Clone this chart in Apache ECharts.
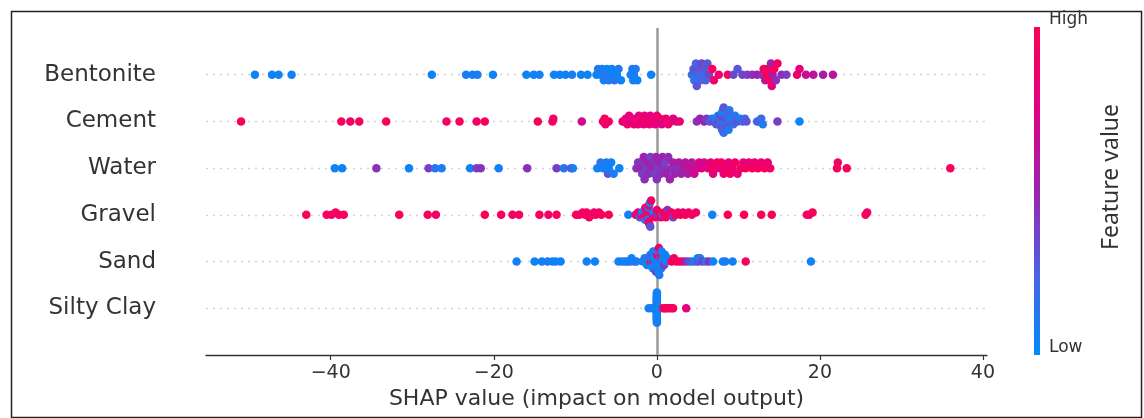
<!DOCTYPE html>
<html>
<head>
<meta charset="utf-8">
<title>SHAP summary</title>
<script src="https://cdn.jsdelivr.net/npm/echarts@6/dist/echarts.min.js"></script>
<style>
  html, body { margin: 0; padding: 0; background: #fff; }
  #chart { width: 1144px; height: 418px; }
</style>
</head>
<body>
<div id="chart"></div>
<script>
// Features, listed top to bottom
const features = ['Bentonite', 'Cement', 'Water', 'Gravel', 'Sand', 'Silty Clay'];

// x-axis tick values
const xTicks = [-40, -20, 0, 20, 40];

// Each point: [SHAP value, normalised feature value (0 = low, 1 = high)]
const bentonite = [
  [-49.3,0.05],[-47.2,0.05],[-46.4,0.05],[-44.8,0.05],[-27.6,0.05],
  [-23.4,0.08],[-22.6,0.08],[-22.0,0.1],[-20.1,0.05],
  [-16.0,0.05],[-15.1,0.05],[-14.4,0.08],
  [-12.6,0.05],[-11.9,0.05],[-11.2,0.05],[-10.4,0.1],[-9.3,0.05],[-8.5,0.05],
  [-7.4,0.05],[-7.2,0.1],[-6.9,0.05],[-6.7,0.1],[-6.5,0.05],[-6.4,0.15],[-6.1,0.05],
  [-5.9,0.1],[-5.6,0.05],[-5.5,0.05],[-5.2,0.15],[-4.9,0.05],[-4.7,0.1],[-4.4,0.05],
  [-3.2,0.05],[-3.0,0.1],[-2.9,0.05],[-2.8,0.05],[-2.6,0.1],[-2.4,0.05],
  [-0.7,0.05],
  [4.3,0.2],[4.5,0.3],[4.6,0.15],[4.8,0.25],[4.9,0.3],[5.1,0.2],[5.2,0.3],[5.4,0.25],
  [5.5,0.35],[5.7,0.2],[5.8,0.3],[6.0,0.25],[6.2,0.3],[6.4,0.35],
  [6.8,0.95],[7.0,0.9],[7.6,0.85],[8.7,0.95],
  [9.4,0.35],[9.9,0.3],[10.5,0.35],[11.1,0.4],[11.7,0.45],[12.3,0.5],
  [12.9,0.45],[13.1,0.95],[13.3,0.55],[13.5,1.0],[13.6,0.9],[13.8,0.95],[14.0,0.5],
  [14.1,0.85],[14.2,0.6],[14.4,0.95],[14.6,0.45],[14.8,0.9],
  [15.3,0.45],[15.9,0.4],
  [17.2,0.9],[17.5,0.8],[18.3,0.65],[19.2,0.6],[20.4,0.55],[21.6,0.6]
];

const cement = [
  [-51.0,0.95],[-38.7,0.95],[-37.6,0.9],[-36.5,0.95],[-33.2,0.95],
  [-25.8,0.9],[-24.2,0.95],[-22.1,0.9],[-21.1,0.95],
  [-14.6,0.95],[-12.8,0.95],[-12.7,0.9],[-9.2,0.7],
  [-6.6,0.95],[-6.4,0.95],[-6.3,0.9],[-5.9,0.9],
  [-4.2,0.8],[-4.0,0.85],[-3.8,0.8],[-3.6,0.9],[-3.4,0.8],[-3.3,0.75],[-3.0,0.85],
  [-2.8,0.8],[-2.7,0.9],[-2.5,0.8],[-2.3,0.85],[-2.2,0.75],[-2.0,0.8],[-1.8,0.9],
  [-1.6,0.8],[-1.5,0.85],[-1.3,0.95],[-1.1,0.8],[-0.9,0.85],[-0.8,0.75],[-0.6,0.8],
  [-0.4,0.9],[-0.2,0.8],[0.0,0.85],[0.2,0.8],[0.4,0.9],[0.6,0.75],[0.9,0.8],
  [1.1,0.85],[1.4,0.8],[1.7,0.9],[2.0,0.75],[2.4,0.8],[2.8,0.85],
  [4.9,0.45],[5.3,0.5],[5.8,0.5],[6.1,0.4],
  [6.5,0.3],[6.8,0.15],[7.0,0.35],[7.2,0.1],[7.3,0.3],[7.5,0.05],[7.6,0.4],[7.7,0.2],
  [7.8,0.15],[7.8,0.35],[7.9,0.3],[8.0,0.1],[8.0,0.25],[8.1,0.1],[8.2,0.2],[8.2,0.3],
  [8.3,0.05],[8.4,0.35],[8.5,0.2],[8.6,0.1],[8.6,0.3],[8.7,0.25],[8.8,0.1],[8.9,0.15],
  [9.1,0.3],[9.2,0.1],[9.4,0.2],[9.6,0.15],[9.9,0.3],[10.2,0.1],[10.5,0.25],
  [10.8,0.2],[11.0,0.3],
  [12.3,0.15],[12.5,0.3],[12.8,0.2],[13.0,0.1],
  [14.8,0.4],[17.5,0.05]
];

const water = [
  [-39.5,0.05],[-38.6,0.05],[-34.4,0.45],[-30.4,0.05],[-28.0,0.4],[-27.2,0.15],
  [-26.4,0.1],[-22.9,0.05],[-22.1,0.4],[-21.6,0.45],[-19.4,0.05],[-15.9,0.45],
  [-12.3,0.4],[-11.4,0.15],[-10.5,0.35],[-10.3,0.1],
  [-7.3,0.05],[-6.9,0.15],[-6.6,0.05],[-6.2,0.1],[-6.0,0.3],[-5.9,0.05],[-5.6,0.05],
  [-5.3,0.1],[-4.6,0.05],
  [-2.5,0.45],[-2.3,0.4],[-2.1,0.5],[-2.0,0.45],[-1.8,0.4],[-1.6,0.5],[-1.5,0.45],
  [-1.3,0.4],[-1.1,0.5],[-1.0,0.45],[-0.8,0.4],[-0.6,0.5],[-0.5,0.45],[-0.3,0.4],
  [-0.1,0.5],[0.0,0.45],[0.2,0.4],[0.4,0.5],[0.5,0.45],[0.7,0.5],[0.9,0.45],
  [1.0,0.4],[1.2,0.5],[1.4,0.45],[1.6,0.5],[1.8,0.45],[2.0,0.55],[2.2,0.5],
  [2.5,0.45],[2.7,0.55],[3.0,0.5],[3.2,0.55],[3.5,0.6],[3.8,0.55],[4.0,0.65],
  [4.3,0.6],[4.6,0.7],[4.9,0.65],[5.2,0.7],[5.5,0.75],[5.8,0.7],
  [6.3,0.8],[6.6,0.85],[6.9,0.8],[7.1,0.9],[7.4,0.85],[7.7,0.8],[7.9,0.95],
  [8.2,0.85],[8.5,0.9],[8.8,0.8],[9.0,0.95],[9.3,0.85],[9.6,0.9],[9.9,0.8],
  [10.3,0.95],[10.6,0.85],[10.9,0.9],[11.3,0.8],[11.7,0.95],[12.0,0.85],
  [12.4,0.9],[12.8,0.85],[13.2,0.95],[13.6,0.85],[13.9,0.9],
  [22.1,0.95],[22.2,0.9],[23.3,0.95],[36.0,0.95]
];

const gravel = [
  [-43.0,0.95],[-40.5,0.95],[-39.9,0.9],[-39.4,0.95],[-39.0,0.9],[-38.4,0.95],
  [-31.6,0.95],[-28.1,0.95],[-27.1,0.9],[-21.1,0.95],[-19.1,0.95],[-17.7,0.9],
  [-16.9,0.95],[-14.4,0.95],[-13.3,0.9],[-12.3,0.95],
  [-9.9,0.95],[-9.5,0.9],[-9.1,0.95],[-8.8,0.85],[-8.6,0.95],[-8.3,0.9],[-8.0,0.95],
  [-7.7,0.85],[-7.5,0.95],[-7.1,0.9],[-6.8,0.95],
  [-5.9,0.95],[-3.5,0.05],
  [-2.6,0.9],[-2.3,0.85],[-2.1,0.3],[-1.9,0.95],[-1.8,0.05],[-1.6,0.9],[-1.5,0.2],
  [-1.45,0.1],[-1.4,0.95],[-1.35,0.9],[-1.3,0.4],[-1.25,0.95],[-1.2,0.9],[-1.1,0.05],
  [-1.05,0.3],[-1.0,0.85],[-0.95,0.9],[-0.9,0.95],[-0.85,0.05],[-0.8,0.3],[-0.7,0.9],
  [-0.5,0.95],[-0.4,0.1],[-0.2,0.9],[0.0,0.85],[0.1,0.4],[0.3,0.95],[0.5,0.9],
  [0.7,0.35],[0.9,0.95],[1.1,0.9],[1.3,0.45],[1.5,0.95],[1.8,0.9],[2.0,0.4],
  [2.3,0.95],[2.6,0.9],[2.9,0.95],[3.2,0.85],[3.5,0.95],[3.9,0.9],[4.3,0.95],[4.8,0.9],
  [6.8,0.05],[8.7,0.95],[10.7,0.95],[12.8,0.95],[14.1,0.95],
  [18.4,0.95],[18.7,0.9],[19.1,0.95],[25.6,0.95],[25.8,0.9]
];

const sand = [
  [-17.2,0.05],[-15.0,0.05],[-14.1,0.05],[-13.4,0.1],[-12.8,0.05],[-12.4,0.05],
  [-11.8,0.05],[-8.6,0.05],[-7.6,0.05],
  [-4.7,0.05],[-4.3,0.1],[-3.9,0.05],[-3.6,0.05],[-3.3,0.15],[-3.1,0.05],[-2.8,0.05],
  [-2.5,0.1],
  [-1.7,0.05],[-1.5,0.1],[-1.4,0.05],[-1.3,0.2],[-1.2,0.05],[-1.1,0.1],[-1.0,0.05],
  [-0.9,0.15],[-0.8,0.05],[-0.75,0.95],[-0.7,0.1],[-0.6,0.05],[-0.55,0.3],[-0.5,0.05],
  [-0.45,0.1],[-0.4,0.95],[-0.35,0.05],[-0.3,0.2],[-0.25,0.05],[-0.2,0.1],[-0.15,0.05],
  [-0.1,0.4],[-0.05,0.05],[0.0,0.1],[0.0,0.05],[0.05,0.95],[0.1,0.05],[0.15,0.2],
  [0.2,0.05],[0.25,0.9],[0.3,0.1],[0.35,0.05],[0.4,0.3],[0.45,0.05],[0.5,0.95],
  [0.55,0.1],[0.6,0.05],[0.7,0.2],[0.8,0.05],[0.9,0.4],[1.0,0.05],[1.1,0.1],[1.3,0.05],
  [1.8,0.95],[2.1,0.9],[2.4,0.95],[2.8,0.95],[3.2,0.9],
  [3.6,0.45],[4.0,0.3],[4.4,0.2],[4.8,0.1],[5.0,0.05],[5.1,0.3],[5.3,0.15],[5.6,0.4],
  [6.0,0.1],[6.4,0.45],[6.9,0.05],
  [8.1,0.05],[8.4,0.1],[9.3,0.05],[10.9,0.95],[18.9,0.05]
];

const siltyClay = [
  [-1.0,0.05],[-0.6,0.1],[-0.3,0.05],[-0.15,0.05],
  [0.0,0.05],[0.0,0.1],[0.0,0.05],[0.01,0.05],[0.0,0.08],[0.01,0.05],[0.0,0.05],
  [0.0,0.1],[0.01,0.05],[0.0,0.05],[0.0,0.08],[0.01,0.05],[0.0,0.05],[0.0,0.1],
  [0.01,0.05],[0.0,0.05],[0.0,0.05],[0.01,0.08],[0.0,0.05],[0.0,0.1],[0.01,0.05],
  [0.0,0.05],[0.0,0.05],[0.01,0.1],[0.0,0.05],[0.0,0.08],[0.01,0.05],[0.0,0.05],
  [0.2,0.05],[0.4,0.1],
  [0.8,0.95],[1.0,0.9],[1.2,0.95],[1.5,0.95],[1.8,0.9],[2.0,0.95],[3.6,0.8]
];

const featureData = [bentonite, cement, water, gravel, sand, siltyClay];

// Colour ramp for the feature value, low (blue) to high (red)
const colorRamp = ['#008bfb', '#4b63e3', '#9b23ad', '#e00086', '#ff0051'];

// Beeswarm layout: points falling in the same x-bin are stacked
// alternately above and below the row centre.
function swarm(points, rowPos) {
  const xs = points.map(p => p[0]);
  const lo = Math.min(...xs), hi = Math.max(...xs);
  const nbins = 100;
  const quant = xs.map(v => Math.round(nbins * (v - lo) / (hi - lo + 1e-8)));
  const order = xs.map((_, i) => i).sort((a, b) => quant[a] - quant[b] || xs[a] - xs[b]);
  const ys = new Array(xs.length).fill(0);
  let layer = 0, last = -1;
  for (const i of order) {
    if (quant[i] !== last) layer = 0;
    ys[i] = Math.ceil(layer / 2) * ((layer % 2) * 2 - 1);
    layer++;
    last = quant[i];
  }
  const top = Math.max(...ys.map(y => y + 1));
  const scale = 0.9 * 0.4 / top;
  return points.map((p, i) => [p[0], rowPos + ys[i] * scale, p[1]]);
}

const rowLineStyle = { type: [2, 5], color: '#d2d2d2', width: 1.4 };

const series = featureData.map((pts, i) => {
  const rowPos = features.length - 1 - i;
  const lines = [{ yAxis: rowPos }];
  if (i === 0) {
    lines.push({ xAxis: 0, lineStyle: { type: 'solid', color: '#9a9a9a', width: 2.5 } });
  }
  return {
    name: features[i],
    type: 'scatter',
    data: swarm(pts, rowPos),
    symbolSize: 8.5,
    itemStyle: { opacity: 1 },
    markLine: {
      silent: true,
      z: 1,
      symbol: ['none', 'none'],
      label: { show: false },
      lineStyle: rowLineStyle,
      data: lines
    }
  };
});

const chart = echarts.init(document.getElementById('chart'), null, { renderer: 'canvas' });
chart.setOption({
  animation: false,
  backgroundColor: '#ffffff',
  textStyle: { fontFamily: 'DejaVu Sans' },
  grid: { left: 206, right: 157, top: 28, bottom: 63 },
  xAxis: {
    type: 'value',
    min: -55.3,
    max: 40.5,
    splitLine: { show: false },
    axisLine: { onZero: false, lineStyle: { color: '#333', width: 1.3 } },
    axisTick: { customValues: xTicks, length: 5, lineStyle: { color: '#333', width: 1.2 } },
    axisLabel: {
      customValues: xTicks,
      fontSize: 19,
      color: '#333',
      margin: 9,
      formatter: v => (v < 0 ? '\u2212' + Math.abs(v) : String(v))
    },
    name: 'SHAP value (impact on model output)',
    nameLocation: 'middle',
    nameGap: 21,
    nameTextStyle: { fontSize: 22, color: '#333' }
  },
  yAxis: {
    type: 'value',
    min: -1,
    max: 6,
    interval: 1,
    axisLine: { show: false },
    axisTick: { show: false },
    splitLine: { show: false },
    axisLabel: {
      margin: 50,
      fontSize: 23,
      color: '#333',
      padding: [3, 0, 0, 0],
      formatter: v => features[features.length - 1 - v] || ''
    }
  },
  visualMap: {
    type: 'continuous',
    show: false,
    min: 0,
    max: 1,
    dimension: 2,
    inRange: { color: colorRamp }
  },
  graphic: [
    { type: 'rect', left: 9, top: 9, shape: { width: 1130, height: 406 },
      style: { fill: 'none', stroke: '#222', lineWidth: 1.5 }, silent: true },
    // colour bar for the feature value
    { type: 'rect', x: 1034, y: 27, shape: { width: 6, height: 328 }, silent: true,
      style: { fill: new echarts.graphic.LinearGradient(0, 1, 0, 0,
        colorRamp.map((c, k) => ({ offset: k / (colorRamp.length - 1), color: c }))) } },
    { type: 'text', x: 1049, y: 20,
      style: { text: 'High', fontSize: 17, fill: '#333', fontFamily: 'DejaVu Sans', verticalAlign: 'middle' } },
    { type: 'text', x: 1049, y: 348,
      style: { text: 'Low', fontSize: 17, fill: '#333', fontFamily: 'DejaVu Sans', verticalAlign: 'middle' } },
    { type: 'text', x: 1111, y: 177, rotation: Math.PI / 2,
      style: { text: 'Feature value', fontSize: 23, fill: '#333', fontFamily: 'Noto Sans',
               align: 'center', verticalAlign: 'middle' } }
  ],
  series: series
});
</script>
</body>
</html>
